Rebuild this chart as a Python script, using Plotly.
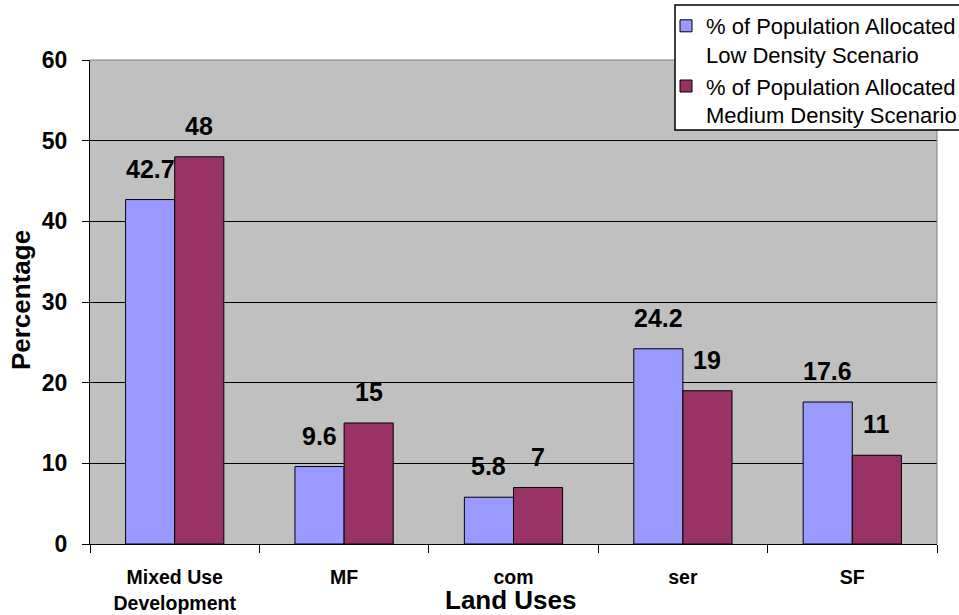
import plotly.graph_objects as go

# Land-use categories and the share of population allocated under each scenario
categories = ["Mixed Use<br>Development", "MF", "com", "ser", "SF"]
low_density = [42.7, 9.6, 5.8, 24.2, 17.6]
medium_density = [48, 15, 7, 19, 11]
low_name = "% of Population Allocated<br>Low Density Scenario"
medium_name = "% of Population Allocated<br>Medium Density Scenario"
y_ticks = [0, 10, 20, 30, 40, 50, 60]

FONT = "Liberation Sans, Arial, sans-serif"
BLUE = "#9999FF"
MAROON = "#993366"

fig = go.Figure()
fig.add_trace(go.Bar(
    x=categories, y=low_density, name=low_name,
    marker=dict(color=BLUE, line=dict(color="black", width=1)),
))
fig.add_trace(go.Bar(
    x=categories, y=medium_density, name=medium_name,
    marker=dict(color=MAROON, line=dict(color="black", width=1)),
))

# value labels above each bar, shifted onto their bar within the group
bar_half = 847 / len(categories) * (1 - 0.42) / 4
for vals, shift in ((low_density, -bar_half), (medium_density, bar_half)):
    for cat, v in zip(categories, vals):
        fig.add_annotation(
            x=cat, y=v, xref="x", yref="y", text=f"{v:g}",
            showarrow=False, xshift=shift, yshift=15,
            yanchor="bottom", xanchor="center",
            font=dict(family=FONT, size=25, color="black", weight="bold"),
        )

# axis titles
fig.add_annotation(
    x=(21 - 90) / 847, y=0.504, xref="paper", yref="paper",
    text="Percentage", textangle=-90, showarrow=False,
    xanchor="center", yanchor="middle",
    font=dict(family=FONT, size=26, color="black", weight="bold"),
)
fig.add_annotation(
    x=0.497, y=(544 - 600) / 484, xref="paper", yref="paper",
    text="Land Uses", showarrow=False,
    xanchor="center", yanchor="middle",
    font=dict(family=FONT, size=26, color="black", weight="bold"),
)

# grey frame on the top and right of the plot area, plus the legend box
fig.add_shape(type="line", xref="paper", yref="paper", x0=0, x1=1, y0=1, y1=1,
              line=dict(color="#808080", width=1), layer="above")
fig.add_shape(type="line", xref="paper", yref="paper", x0=1, x1=1, y0=0, y1=1,
              line=dict(color="#808080", width=1), layer="above")
fig.add_shape(type="rect", xref="paper", yref="paper",
              x0=(675 - 90) / 847, x1=1.2, y0=(544 - 130) / 484, y1=(544 - 5) / 484,
              line=dict(color="black", width=1.5), fillcolor="white", layer="above")

fig.update_layout(
    width=959, height=615,
    margin=dict(l=90, r=22, t=60, b=71, autoexpand=False),
    paper_bgcolor="white", plot_bgcolor="#C0C0C0",
    barmode="group", bargap=0.42, bargroupgap=0,
    font=dict(family=FONT, color="black"),
    showlegend=True,
    legend=dict(
        x=(666 - 90) / 847, y=(544 - 5) / 484, xanchor="left", yanchor="top",
        bgcolor="rgba(0,0,0,0)", borderwidth=0,
        font=dict(family=FONT, size=22, color="black"),
        valign="top", tracegroupgap=6,
    ),
    xaxis=dict(
        type="category", tickson="boundaries", ticks="outside", ticklen=8,
        tickcolor="black", showline=True, linecolor="black", linewidth=1,
        showgrid=False, ticklabelstandoff=16,
        tickfont=dict(family=FONT, size=19.5, color="black", weight="bold"),
    ),
    yaxis=dict(
        range=[0, 60], tickvals=y_ticks, ticks="outside", ticklen=7,
        tickcolor="black", showline=True, linecolor="black", linewidth=1,
        showgrid=True, gridcolor="black", gridwidth=1, zeroline=False,
        ticklabelstandoff=10,
        tickfont=dict(family=FONT, size=23, color="black", weight="bold"),
    ),
)

fig.write_html("out.html")
